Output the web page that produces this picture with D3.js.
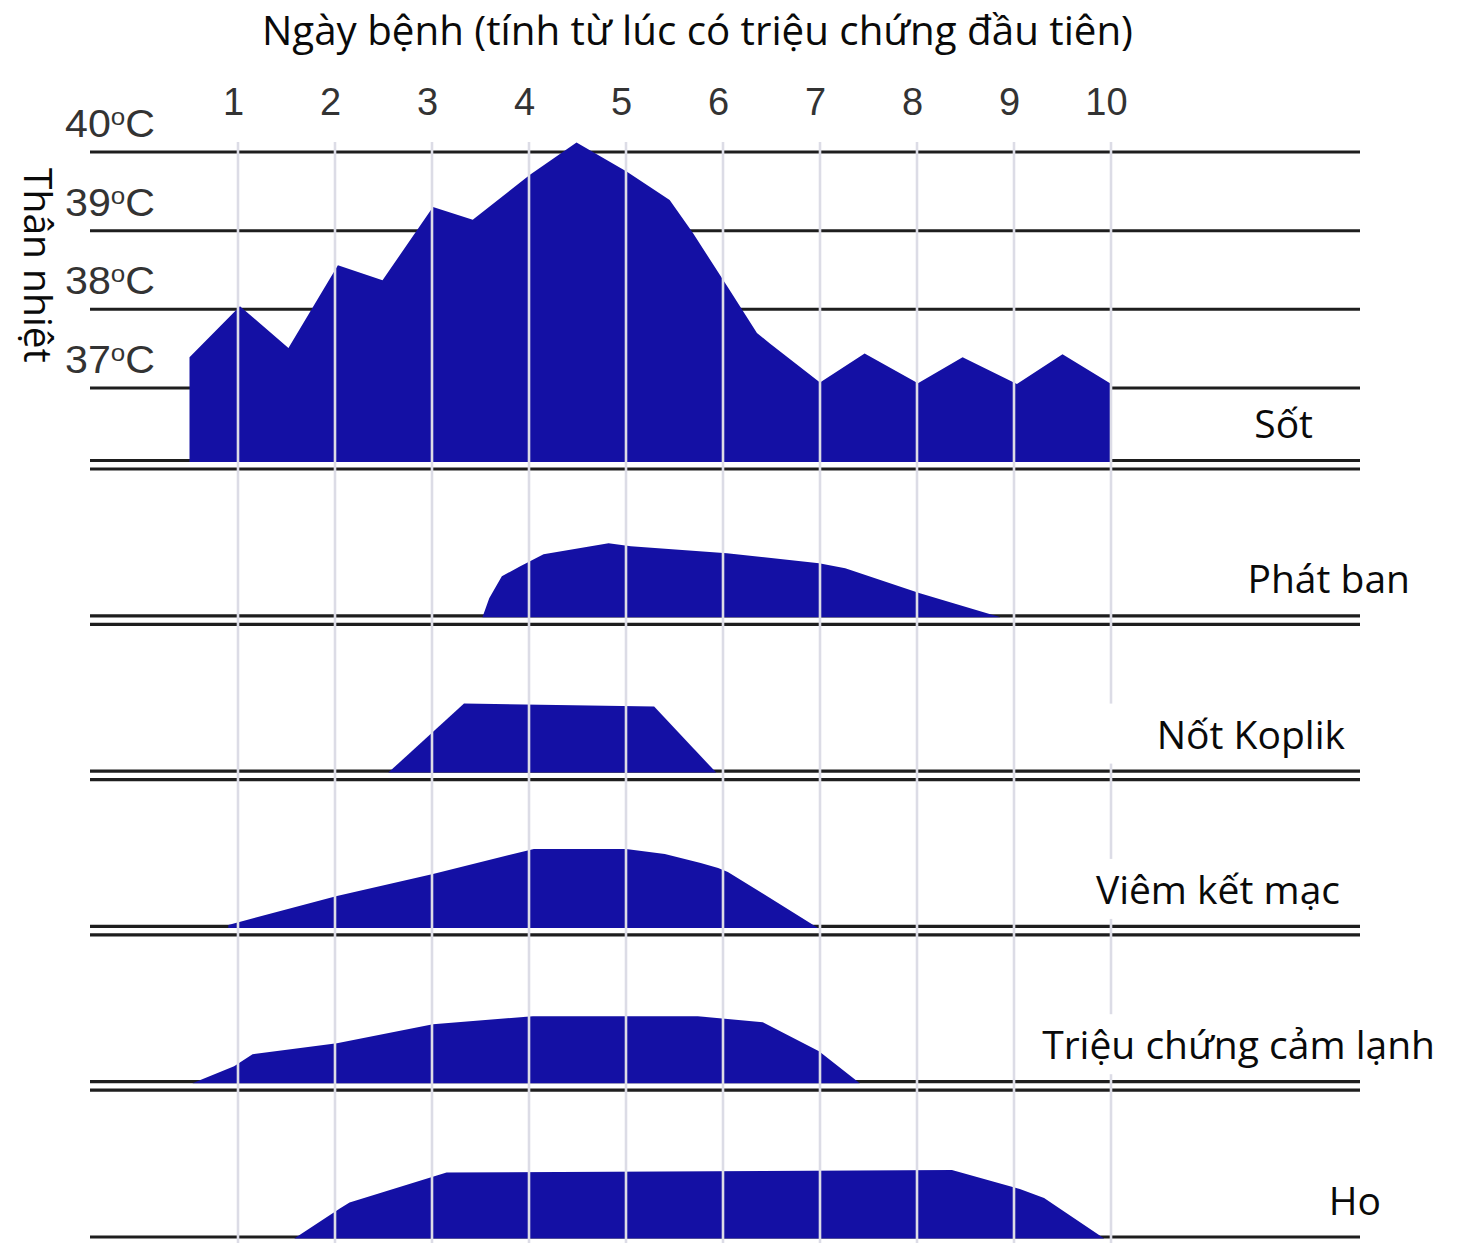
<!DOCTYPE html>
<html>
<head>
<meta charset="utf-8">
<script src="https://cdn.jsdelivr.net/npm/d3@7"></script>
<style>
  html, body { margin: 0; padding: 0; background: #fff; }
  svg { display: block; }
</style>
</head>
<body>
<script>
// ---------------- DATA ----------------
const dayTicks = [1, 2, 3, 4, 5, 6, 7, 8, 9, 10];
const tempTicks = [40, 39, 38, 37];

const titleText = "Ngày bệnh (tính từ lúc có triệu chứng đầu tiên)";
const yAxisTitle = "Thân nhiệt";
const feverLabel = "Sốt";

// Fever curve (day of illness, body temperature °C)
const feverDays  = [0.5, 1.02, 1.52, 2.03, 2.49, 3.01, 3.42, 4.01, 4.49, 5.01, 5.45, 5.69, 6.05, 6.35, 6.48, 7.0, 7.46, 8.01, 8.47, 9.03, 9.5, 9.99];
const feverTemps = [37.39, 38.04, 37.51, 38.56, 38.37, 39.30, 39.14, 39.71, 40.12, 39.75, 39.39, 38.97, 38.28, 37.70, 37.57, 37.07, 37.44, 37.06, 37.39, 37.05, 37.43, 37.06];

// Symptom intensity profiles (day, relative intensity 0-10)
const symptomLabels = ["Phát ban", "Nốt Koplik", "Viêm kết mạc", "Triệu chứng cảm lạnh", "Ho"];

const rashDays   = [3.52, 3.59, 3.72, 3.91, 4.15, 4.82, 5.05, 6.04, 6.99, 7.26, 8.03, 8.86];
const rashLevels = [0, 1.9, 4.1, 5.1, 6.3, 7.4, 7.1, 6.4, 5.4, 4.9, 2.4, 0];

const koplikDays   = [2.55, 3.33, 5.29, 5.93];
const koplikLevels = [0, 6.9, 6.6, 0];

const conjDays   = [0.9, 2.02, 3.01, 4.05, 5.0, 5.4, 5.77, 5.95, 6.05, 6.98];
const conjLevels = [0.3, 3.2, 5.4, 7.9, 7.9, 7.4, 6.5, 6.0, 5.6, 0];

const coldDays   = [0.53, 0.96, 1.15, 2.02, 3.01, 4.04, 5.74, 6.41, 6.99, 7.41];
const coldLevels = [0, 1.7, 2.9, 4.0, 5.9, 6.7, 6.7, 6.1, 3.2, 0];

const coughDays   = [1.58, 2.05, 2.15, 3.05, 3.15, 8.36, 9.06, 9.31, 9.93];
const coughLevels = [0, 3.0, 3.6, 6.3, 6.6, 6.85, 4.95, 4.05, 0];

const symptomDays   = [rashDays, koplikDays, conjDays, coldDays, coughDays];
const symptomLevels = [rashLevels, koplikLevels, conjLevels, coldLevels, coughLevels];

// ---------------- LAYOUT ----------------
const W = 1460, H = 1243;
const gridL = 90, gridR = 1360, gridTop = 142;
const feverBase = 462, panelStep = 155.3;
const labelRight = [1313, 1410, 1345, 1340, 1435, 1381];   // right edge of row labels
const labelBoxed = [false, false, true, true, true, false];
const BLUE = "#1410a4", INK = "#1e1e1e", GRID_V = "#dcdce6";
const LABEL_FONT = "'Open Sans', 'Noto Sans', sans-serif";
const TICK_FONT = "'Liberation Sans', Arial, sans-serif";

const svg = d3.select("body").append("svg").attr("width", W).attr("height", H);

const x = d3.scaleLinear().domain([1, 10]).range([238, 1111]);
const tempY = d3.scaleLinear().domain([37, 40]).range([388, 152]);
const levelH = d3.scaleLinear().domain([0, 10]).range([0, 100]);
const bases = d3.range(6).map(i => feverBase + i * panelStep);

// temperature grid lines
svg.append("g").selectAll("line").data(tempTicks).join("line")
  .attr("x1", gridL).attr("x2", gridR)
  .attr("y1", d => tempY(d)).attr("y2", d => tempY(d))
  .attr("stroke", INK).attr("stroke-width", 3);

// double baselines
const gBase = svg.append("g");
bases.forEach(b => {
  [b - 1.5, b + 7].forEach(yy => {
    gBase.append("line").attr("x1", gridL).attr("x2", gridR)
      .attr("y1", yy).attr("y2", yy)
      .attr("stroke", INK).attr("stroke-width", 3.2);
  });
});

// fever area
const feverData = feverDays.map((d, i) => ({ d, v: feverTemps[i] }));
svg.append("path").datum(feverData)
  .attr("d", d3.area().x(p => x(p.d)).y0(feverBase).y1(p => tempY(p.v)))
  .attr("fill", BLUE);

// symptom areas
symptomDays.forEach((ds, i) => {
  const b = bases[i + 1];
  const data = ds.map((d, j) => ({ d, v: symptomLevels[i][j] }));
  svg.append("path").datum(data)
    .attr("d", d3.area().x(p => x(p.d)).y0(b).y1(p => b - levelH(p.v)))
    .attr("fill", BLUE);
});

// vertical day grid (drawn over areas)
svg.append("g").selectAll("line").data(dayTicks).join("line")
  .attr("x1", d => x(d)).attr("x2", d => x(d))
  .attr("y1", gridTop).attr("y2", H)
  .attr("stroke", GRID_V).attr("stroke-width", 2.6);

// day axis (top)
const dayAxis = svg.append("g").attr("transform", "translate(-5,115)")
  .call(d3.axisTop(x).tickValues(dayTicks).tickSize(0).tickPadding(0));
dayAxis.select(".domain").remove();
dayAxis.selectAll("text")
  .attr("font-family", TICK_FONT).attr("font-size", 38).attr("fill", "#333");

// temperature axis (left)
const tempAxis = svg.append("g").attr("transform", "translate(65,0)")
  .call(d3.axisLeft(tempY).tickValues(tempTicks).tickSize(0));
tempAxis.select(".domain").remove();
tempAxis.selectAll(".tick").attr("transform", d => `translate(0,${tempY(d) - 15})`);
tempAxis.selectAll("text")
  .attr("x", 0).attr("y", 0).attr("dy", null)
  .attr("text-anchor", "start")
  .attr("font-family", TICK_FONT).attr("font-size", 38).attr("fill", "#333")
  .attr("textLength", 90).attr("lengthAdjust", "spacingAndGlyphs")
  .text(null)
  .each(function(d) {
    const t = d3.select(this);
    t.append("tspan").text(d);
    t.append("tspan").attr("font-size", 24).attr("dy", -12).text("o");
    t.append("tspan").attr("dy", 12).text("C");
  });

// y-axis title (rotated)
svg.append("text")
  .attr("transform", "translate(24,168) rotate(90)")
  .attr("font-family", LABEL_FONT).attr("font-size", 39).attr("fill", "#0a0a0a")
  .text(yAxisTitle);

// chart title
svg.append("text")
  .attr("x", 262).attr("y", 45)
  .attr("font-family", LABEL_FONT).attr("font-size", 40).attr("fill", "#0a0a0a")
  .attr("textLength", 871).attr("lengthAdjust", "spacingAndGlyphs")
  .text(titleText);

// row labels
const rowLabels = [feverLabel, ...symptomLabels];
rowLabels.forEach((lab, i) => {
  const by = bases[i] - 24;
  if (labelBoxed[i]) {
    svg.append("rect")
      .attr("x", 1036).attr("y", by - 45)
      .attr("width", labelRight[i] + 10 - 1036).attr("height", 60)
      .attr("fill", "#fff");
  }
  svg.append("text")
    .attr("x", labelRight[i]).attr("y", by)
    .attr("text-anchor", "end")
    .attr("font-family", LABEL_FONT).attr("font-size", 39).attr("fill", "#0a0a0a")
    .text(lab);
});
</script>
</body>
</html>
